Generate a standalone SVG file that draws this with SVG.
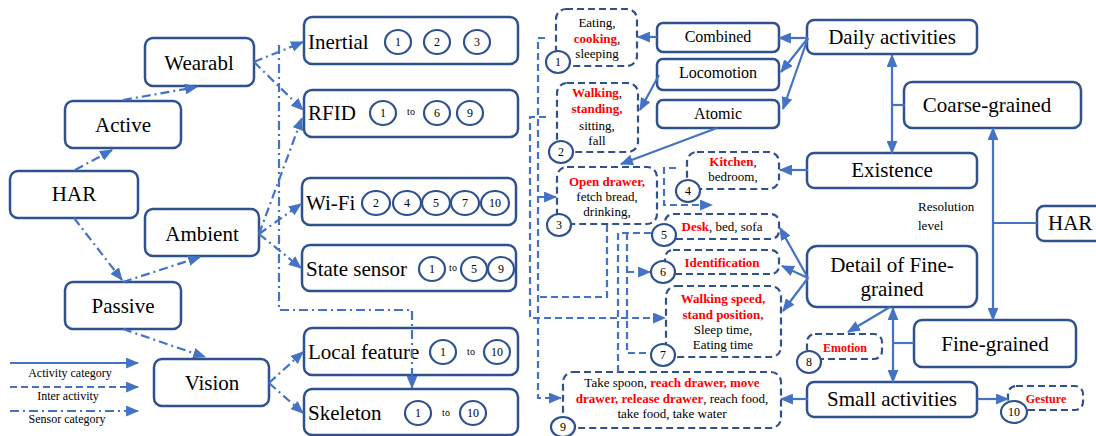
<svg xmlns="http://www.w3.org/2000/svg" width="1096" height="436" viewBox="0 0 1096 436" font-family="'Liberation Serif', 'Times New Roman', serif">
<defs>
<marker id="ar" viewBox="0 0 12 10" refX="11" refY="5" markerWidth="13" markerHeight="11" markerUnits="userSpaceOnUse" orient="auto-start-reverse"><path d="M0,0 L12,5 L0,10 z" fill="#4472C4"/></marker>
<style>
.nd{fill:#fff;stroke:#2F528F;stroke-width:2.5}
.db{fill:#fff;stroke:#2F528F;stroke-width:2.2;stroke-dasharray:7,4}
.ci{fill:#fff;stroke:#2F528F;stroke-width:2.2}
.t{font-family:'Liberation Serif','Times New Roman',serif;fill:#000}
.L{font-size:21px}
.M{font-size:16px}
.S{font-size:13px}
.C{font-size:12px}
.T{font-size:10px}
.r{fill:#FF0000;font-weight:bold}
.so{fill:none;stroke:#4472C4;stroke-width:2.2}
.da{fill:none;stroke:#4472C4;stroke-width:2.2;stroke-dasharray:7,4}
.dd{fill:none;stroke:#4472C4;stroke-width:2.2;stroke-dasharray:9,4,2,4}
</style>
</defs>
<rect width="1096" height="436" fill="#fff"/>

<g id="legend-text">
<text class="t C" x="70" y="377" text-anchor="middle">Activity category</text>
<text class="t C" x="68" y="400" text-anchor="middle">Inter activity</text>
<text class="t C" x="67" y="423" text-anchor="middle">Sensor category</text>
</g>

<g id="wearabl"><rect class="nd" x="145" y="38" width="109" height="48" rx="8"/><text class="t L" x="199" y="70" text-anchor="middle">Wearabl</text></g>
<g id="active"><rect class="nd" x="65" y="101" width="116" height="47" rx="8"/><text class="t L" x="123" y="132" text-anchor="middle">Active</text></g>
<g id="har-left"><rect class="nd" x="10" y="171" width="128" height="47" rx="8"/><text class="t L" x="74" y="201" text-anchor="middle">HAR</text></g>
<g id="ambient"><rect class="nd" x="145" y="209" width="114" height="47" rx="8"/><text class="t L" x="202" y="241" text-anchor="middle">Ambient</text></g>
<g id="passive"><rect class="nd" x="65" y="282" width="116" height="47" rx="8"/><text class="t L" x="123" y="313" text-anchor="middle">Passive</text></g>
<g id="vision"><rect class="nd" x="154" y="359" width="115" height="47" rx="8"/><text class="t L" x="212" y="390" text-anchor="middle">Vision</text></g>

<g id="inertial"><rect class="nd" x="304" y="17" width="214" height="47" rx="8"/><text class="t L" x="308" y="49">Inertial</text>
<ellipse class="ci" cx="398" cy="42" rx="13" ry="12"/><text class="t C" x="398" y="46" text-anchor="middle">1</text>
<ellipse class="ci" cx="437" cy="42" rx="13" ry="12"/><text class="t C" x="437" y="46" text-anchor="middle">2</text>
<ellipse class="ci" cx="477" cy="42" rx="13" ry="12"/><text class="t C" x="477" y="46" text-anchor="middle">3</text></g>
<g id="rfid"><rect class="nd" x="304" y="90" width="214" height="47" rx="8"/><text class="t L" x="308" y="120">RFID</text>
<ellipse class="ci" cx="383" cy="113" rx="13" ry="12"/><text class="t C" x="383" y="117" text-anchor="middle">1</text>
<text class="t T" x="411" y="115" text-anchor="middle">to</text>
<ellipse class="ci" cx="437" cy="113" rx="13" ry="12"/><text class="t C" x="437" y="117" text-anchor="middle">6</text>
<ellipse class="ci" cx="470" cy="113" rx="13" ry="12"/><text class="t C" x="470" y="117" text-anchor="middle">9</text></g>
<g id="wifi"><rect class="nd" x="302" y="178" width="214" height="47" rx="8"/><text class="t L" x="306" y="210">Wi-Fi</text>
<ellipse class="ci" cx="376" cy="203" rx="14" ry="12"/><text class="t C" x="376" y="207" text-anchor="middle">2</text>
<ellipse class="ci" cx="407" cy="203" rx="14" ry="12"/><text class="t C" x="407" y="207" text-anchor="middle">4</text>
<ellipse class="ci" cx="436" cy="203" rx="14" ry="12"/><text class="t C" x="436" y="207" text-anchor="middle">5</text>
<ellipse class="ci" cx="465" cy="203" rx="14" ry="12"/><text class="t C" x="465" y="207" text-anchor="middle">7</text>
<ellipse class="ci" cx="495" cy="203" rx="14" ry="12"/><text class="t C" x="495" y="207" text-anchor="middle">10</text></g>
<g id="state-sensor"><rect class="nd" x="302" y="245" width="214" height="46" rx="8"/><text class="t L" x="306" y="276">State sensor</text>
<ellipse class="ci" cx="432" cy="269" rx="13" ry="12"/><text class="t C" x="432" y="273" text-anchor="middle">1</text>
<text class="t T" x="453" y="271" text-anchor="middle">to</text>
<ellipse class="ci" cx="474" cy="269" rx="13" ry="12"/><text class="t C" x="474" y="273" text-anchor="middle">5</text>
<ellipse class="ci" cx="501" cy="269" rx="13" ry="12"/><text class="t C" x="501" y="273" text-anchor="middle">9</text></g>
<g id="local-feature"><rect class="nd" x="304" y="328" width="214" height="47" rx="8"/><text class="t L" x="308" y="359">Local feature</text>
<ellipse class="ci" cx="443" cy="352" rx="13" ry="12"/><text class="t C" x="443" y="356" text-anchor="middle">1</text>
<text class="t T" x="471" y="355" text-anchor="middle">to</text>
<ellipse class="ci" cx="497" cy="352" rx="13" ry="12"/><text class="t C" x="497" y="356" text-anchor="middle">10</text></g>
<g id="skeleton"><rect class="nd" x="304" y="389" width="214" height="46" rx="8"/><text class="t L" x="308" y="420">Skeleton</text>
<ellipse class="ci" cx="418" cy="413" rx="13" ry="12"/><text class="t C" x="418" y="417" text-anchor="middle">1</text>
<text class="t T" x="446" y="416" text-anchor="middle">to</text>
<ellipse class="ci" cx="473" cy="413" rx="13" ry="12"/><text class="t C" x="473" y="417" text-anchor="middle">10</text></g>

<g id="box1"><rect class="db" x="556" y="9" width="81" height="57" rx="10"/>
<text class="t S" x="597" y="27" text-anchor="middle">Eating,</text>
<text class="t S" x="597" y="43" text-anchor="middle"><tspan class="r">cooking</tspan>,</text>
<text class="t S" x="597" y="58" text-anchor="middle">sleeping</text>
<ellipse class="ci" cx="558" cy="62" rx="12" ry="11"/><text class="t C" x="558" y="66" text-anchor="middle">1</text></g>
<g id="box2"><rect class="db" x="557" y="83" width="81" height="69" rx="10"/>
<text class="t S" x="597" y="97" text-anchor="middle"><tspan class="r">Walking</tspan>,</text>
<text class="t S" x="597" y="113" text-anchor="middle"><tspan class="r">standing,</tspan></text>
<text class="t S" x="597" y="130" text-anchor="middle">sitting,</text>
<text class="t S" x="597" y="145" text-anchor="middle">fall</text>
<ellipse class="ci" cx="561" cy="152" rx="12" ry="11"/><text class="t C" x="561" y="156" text-anchor="middle">2</text></g>
<g id="box3"><rect class="db" x="557" y="167" width="100" height="57" rx="10"/>
<text class="t S" x="607" y="186" text-anchor="middle"><tspan class="r">Open drawer,</tspan></text>
<text class="t S" x="607" y="201" text-anchor="middle">fetch bread,</text>
<text class="t S" x="607" y="216" text-anchor="middle">drinking,</text>
<ellipse class="ci" cx="559" cy="225" rx="12" ry="11"/><text class="t C" x="559" y="229" text-anchor="middle">3</text></g>
<g id="box4"><rect class="db" x="687" y="152" width="92" height="37" rx="10"/>
<text class="t S" x="733" y="166" text-anchor="middle"><tspan class="r">Kitchen</tspan>,</text>
<text class="t S" x="733" y="181" text-anchor="middle">bedroom,</text>
<ellipse class="ci" cx="688" cy="191" rx="12" ry="11"/><text class="t C" x="688" y="195" text-anchor="middle">4</text></g>
<g id="box5"><rect class="db" x="665" y="214" width="114" height="25" rx="8"/>
<text class="t S" x="722" y="231" text-anchor="middle"><tspan class="r">Desk</tspan>, bed, sofa</text>
<ellipse class="ci" cx="664" cy="235" rx="12" ry="11"/><text class="t C" x="664" y="239" text-anchor="middle">5</text></g>
<g id="box6"><rect class="db" x="665" y="250" width="114" height="24" rx="8"/>
<text class="t S r" x="722" y="267" text-anchor="middle">Identification</text>
<ellipse class="ci" cx="663" cy="272" rx="12" ry="11"/><text class="t C" x="663" y="276" text-anchor="middle">6</text></g>
<g id="box7"><rect class="db" x="666" y="286" width="115" height="71" rx="10"/>
<text class="t S r" x="723" y="303" text-anchor="middle">Walking speed,</text>
<text class="t S r" x="723" y="319" text-anchor="middle">stand position,</text>
<text class="t S" x="723" y="334" text-anchor="middle">Sleep time,</text>
<text class="t S" x="723" y="349" text-anchor="middle">Eating time</text>
<ellipse class="ci" cx="663" cy="355" rx="12" ry="11"/><text class="t C" x="663" y="359" text-anchor="middle">7</text></g>
<g id="box8"><rect class="db" x="807" y="334" width="75" height="25" rx="8"/>
<text class="t C r" x="845" y="352" text-anchor="middle">Emotion</text>
<ellipse class="ci" cx="809" cy="362" rx="12" ry="11"/><text class="t C" x="809" y="366" text-anchor="middle">8</text></g>
<g id="box9"><rect class="db" x="563" y="372" width="218" height="56" rx="10"/>
<text class="t S" x="672" y="387" text-anchor="middle">Take spoon, <tspan class="r">reach drawer, move</tspan></text>
<text class="t S" x="672" y="403" text-anchor="middle"><tspan class="r">drawer, release drawer</tspan>, reach food,</text>
<text class="t S" x="672" y="418" text-anchor="middle">take food, take water</text>
<ellipse class="ci" cx="563" cy="427" rx="12" ry="10"/><text class="t C" x="563" y="431" text-anchor="middle">9</text></g>
<g id="box10"><rect class="db" x="1008" y="386" width="75" height="24" rx="8"/>
<text class="t C r" x="1046" y="403" text-anchor="middle">Gesture</text>
<ellipse class="ci" cx="1014" cy="412" rx="13" ry="11"/><text class="t C" x="1014" y="416" text-anchor="middle">10</text></g>

<g id="combined"><rect class="nd" x="657" y="23" width="122" height="29" rx="6"/><text class="t M" x="718" y="42" text-anchor="middle">Combined</text></g>
<g id="locomotion"><rect class="nd" x="657" y="59" width="122" height="31" rx="6"/><text class="t M" x="718" y="78" text-anchor="middle">Locomotion</text></g>
<g id="atomic"><rect class="nd" x="657" y="100" width="122" height="28" rx="6"/><text class="t M" x="718" y="119" text-anchor="middle">Atomic</text></g>
<g id="daily"><rect class="nd" x="807" y="20" width="170" height="34" rx="7"/><text class="t L" x="892" y="44" text-anchor="middle">Daily activities</text></g>
<g id="coarse"><rect class="nd" x="904" y="82" width="177" height="46" rx="8"/><text class="t L" x="987" y="112" text-anchor="middle">Coarse-grained</text></g>
<g id="existence"><rect class="nd" x="807" y="153" width="170" height="35" rx="7"/><text class="t L" x="892" y="177" text-anchor="middle">Existence</text></g>
<g id="har-right"><rect class="nd" x="1037" y="206" width="70" height="35" rx="7"/><text class="t L" x="1048" y="230">HAR</text></g>
<g id="resolution"><text class="t S" x="918" y="211">Resolution</text><text class="t S" x="918" y="230">level</text></g>
<g id="detail"><rect class="nd" x="807" y="246" width="170" height="61" rx="10"/><text class="t L" x="892" y="272" text-anchor="middle">Detail of Fine-</text><text class="t L" x="892" y="296" text-anchor="middle">grained</text></g>
<g id="fine"><rect class="nd" x="914" y="320" width="162" height="47" rx="8"/><text class="t L" x="995" y="351" text-anchor="middle">Fine-grained</text></g>
<g id="small"><rect class="nd" x="807" y="382" width="170" height="35" rx="7"/><text class="t L" x="892" y="406" text-anchor="middle">Small activities</text></g>

<g id="connectors">
<!-- sensor category (dash-dot) -->
<path class="dd" d="M75,170 L112,150" marker-end="url(#ar)"/>
<path class="dd" d="M123,100 L197,87" marker-end="url(#ar)"/>
<path class="dd" d="M74,218 L122,280" marker-end="url(#ar)"/>
<path class="dd" d="M123,282 L200,257" marker-end="url(#ar)"/>
<path class="dd" d="M123,329 L205,357" marker-end="url(#ar)"/>
<path class="dd" d="M254,62 L303,42" marker-end="url(#ar)"/>
<path class="dd" d="M254,62 L303,110" marker-end="url(#ar)"/>
<path class="dd" d="M259,234 L302,118" marker-end="url(#ar)"/>
<path class="dd" d="M259,234 L301,204" marker-end="url(#ar)"/>
<path class="dd" d="M259,234 L301,268" marker-end="url(#ar)"/>
<path class="dd" d="M269,383 L303,352" marker-end="url(#ar)"/>
<path class="dd" d="M269,383 L303,413" marker-end="url(#ar)"/>
<path class="dd" d="M279,45 L279,310 L412,310 L412,388" marker-end="url(#ar)"/>
<!-- activity category (solid) -->
<path class="so" d="M808,38 L779,38" marker-end="url(#ar)"/>
<path class="so" d="M808,38 L781,72" marker-end="url(#ar)"/>
<path class="so" d="M808,38 L783,109" marker-end="url(#ar)"/>
<path class="so" d="M657,37 L638,37" marker-end="url(#ar)"/>
<path class="so" d="M659,75 L640,110" marker-end="url(#ar)"/>
<path class="so" d="M717,128 L621,164" marker-end="url(#ar)"/>
<path class="so" d="M808,170 L780,170" marker-end="url(#ar)"/>
<path class="so" d="M808,278 L780,228" marker-end="url(#ar)"/>
<path class="so" d="M808,278 L782,266" marker-end="url(#ar)"/>
<path class="so" d="M808,278 L783,311" marker-end="url(#ar)"/>
<path class="so" d="M890,307 L848,332" marker-end="url(#ar)"/>
<path class="so" d="M893,308 L893,382" marker-start="url(#ar)" marker-end="url(#ar)"/>
<path class="so" d="M914,343 L893,343"/>
<path class="so" d="M808,399 L781,399" marker-end="url(#ar)"/>
<path class="so" d="M977,399 L1008,399" marker-end="url(#ar)"/>
<path class="so" d="M892,55 L892,153" marker-start="url(#ar)" marker-end="url(#ar)"/>
<path class="so" d="M905,105 L892,105"/>
<path class="so" d="M1037,223 L993,223"/>
<path class="so" d="M993,128 L993,320" marker-start="url(#ar)" marker-end="url(#ar)"/>
<!-- inter activity (dashed) -->
<path class="da" d="M545,38 L538,38 L538,398 L561,398" marker-end="url(#ar)"/>
<path class="da" d="M538,197 L556,197" marker-end="url(#ar)"/>
<path class="da" d="M546,117 L530,117 L530,318 L665,318" marker-end="url(#ar)"/>
<path class="da" d="M607,225 L607,297 L538,297"/>
<path class="da" d="M676,168 L664,168 L664,205 L712,205" marker-end="url(#ar)"/>
<path class="da" d="M651,233 L618,233 L618,372"/>
<path class="da" d="M627,233 L627,353 L650,353"/>
<path class="da" d="M627,272 L650,272" marker-end="url(#ar)"/>
<!-- legend -->
<path class="so" d="M10,363 L138,363" marker-end="url(#ar)"/>
<path class="da" d="M10,387 L138,387" marker-end="url(#ar)"/>
<path class="dd" d="M10,411 L138,411" marker-end="url(#ar)"/>
</g>
</svg>
